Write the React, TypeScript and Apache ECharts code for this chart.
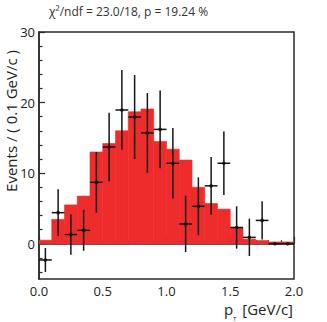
import React, { useEffect, useRef } from "react";
import * as echarts from "echarts";

const binCenters = [0.05, 0.15, 0.25, 0.35, 0.45, 0.55, 0.65, 0.75, 0.85, 0.95, 1.05, 1.15, 1.25, 1.35, 1.45, 1.55, 1.65, 1.75, 1.85, 1.95];
const fitValues = [0.5, 3.45, 5.5, 6.75, 13.0, 14.2, 16.0, 18.7, 19.1, 14.5, 13.4, 11.85, 8.0, 5.7, 4.9, 2.3, 0.65, 0.45, 0.25, 0.25];
const dataValues = [-2.3, 4.4, 1.3, 1.9, 8.7, 13.7, 18.95, 17.95, 15.7, 16.2, 11.4, 2.8, 5.3, 8.2, 11.4, 2.3, 0.9, 3.3, 0.0, 0.0];
const dataErrors = [1.7, 3.3, 2.85, 2.9, 4.3, 4.85, 5.65, 5.95, 5.65, 5.5, 5.0, 4.0, 4.1, 4.1, 4.5, 3.0, 2.65, 2.7, 0, 0];
const binWidth = 0.1;
const yMajorTicks = [0, 10, 20, 30];
const yMinorTicks = [-4, -2, 2, 4, 6, 8, 12, 14, 16, 18, 22, 24, 26, 28];
const titleText = "χ²/ndf = 23.0/18, p = 19.24 %";
const yTitle = "Events / ( 0.1 GeV/c )";

const FONT = "'Open Sans', 'Noto Sans', sans-serif";
const AXIS_COLOR = "#2a2a2a";

export default function App() {
  const ref = useRef<HTMLDivElement>(null);
  useEffect(() => {
    document.body.style.margin = "0";
    const chart = echarts.init(ref.current!, null, { renderer: "svg" });
    const histData = binCenters.map((x, i) => [x, fitValues[i]]);
    const pointData = binCenters.map((x, i) => [x, dataValues[i], dataErrors[i]]);
    chart.setOption({
      animation: false,
      textStyle: { fontFamily: FONT },
      grid: {
        left: 39,
        right: 33,
        top: 32,
        bottom: 43,
        show: true,
        borderColor: AXIS_COLOR,
        borderWidth: 1.5,
        backgroundColor: "transparent",
      },
      xAxis: {
        type: "value",
        min: 0,
        max: 2,
        interval: 0.5,
        axisLine: { show: true, lineStyle: { color: AXIS_COLOR, width: 1.5 } },
        axisTick: { show: true, inside: true, length: 7, lineStyle: { color: AXIS_COLOR, width: 1.2 } },
        minorTick: { show: true, splitNumber: 5, length: 3.5, lineStyle: { color: AXIS_COLOR, width: 1.2 } },
        splitLine: { show: false },
        minorSplitLine: { show: false },
        axisLabel: {
          color: "#222",
          fontSize: 13,
          fontFamily: FONT,
          margin: 5,
          formatter: (v: number) => v.toFixed(1),
        },
      },
      yAxis: [
        {
          type: "value",
          min: -5,
          max: 30,
          axisLine: { show: true, lineStyle: { color: AXIS_COLOR, width: 1.5 } },
          axisTick: {
            show: true,
            inside: true,
            length: 6,
            customValues: yMajorTicks,
            lineStyle: { color: AXIS_COLOR, width: 1.2 },
          },
          splitLine: { show: false },
          axisLabel: {
            color: "#222",
            fontSize: 13,
            fontFamily: FONT,
            margin: 4,
            customValues: yMajorTicks,
          },
        },
        {
          type: "value",
          position: "left",
          min: -5,
          max: 30,
          axisLine: { show: false },
          axisTick: {
            show: true,
            inside: true,
            length: 3.5,
            customValues: yMinorTicks,
            lineStyle: { color: AXIS_COLOR, width: 1.2 },
          },
          splitLine: { show: false },
          axisLabel: { show: false },
        },
      ],
      graphic: [
        {
          type: "text",
          left: 49,
          top: 5,
          style: { text: titleText, fontSize: 12, fill: "#333", fontFamily: FONT },
        },
        {
          type: "text",
          x: 11,
          y: 121,
          rotation: Math.PI / 2,
          style: {
            text: yTitle,
            fontSize: 15,
            fill: "#222",
            fontFamily: FONT,
            align: "center",
            verticalAlign: "middle",
          },
        },
        {
          type: "text",
          x: 293,
          y: 309,
          style: {
            text: "[GeV/c]",
            fontSize: 15,
            fill: "#222",
            fontFamily: FONT,
            align: "right",
            verticalAlign: "middle",
          },
        },
        {
          type: "text",
          x: 224,
          y: 309,
          style: {
            text: "p",
            fontSize: 15,
            fill: "#222",
            fontFamily: FONT,
            align: "left",
            verticalAlign: "middle",
          },
        },
        {
          type: "text",
          x: 233,
          y: 319,
          style: {
            text: "T",
            fontSize: 6,
            fill: "#222",
            fontFamily: FONT,
            align: "left",
            verticalAlign: "middle",
          },
        },
      ],
      series: [
        {
          type: "custom",
          name: "fit",
          xAxisIndex: 0,
          yAxisIndex: 0,
          data: histData,
          clip: true,
          renderItem: (params: any, api: any) => {
            const x = api.value(0);
            const v = api.value(1);
            const p0 = api.coord([x - binWidth / 2, 0]);
            const p1 = api.coord([x + binWidth / 2, v]);
            return {
              type: "rect",
              shape: {
                x: p0[0],
                y: Math.min(p0[1], p1[1]),
                width: p1[0] - p0[0],
                height: Math.abs(p1[1] - p0[1]),
              },
              style: { fill: "#ee2c2c", stroke: "#ee2c2c", lineWidth: 0.6 },
            };
          },
        },
        {
          type: "custom",
          name: "data",
          xAxisIndex: 0,
          yAxisIndex: 0,
          data: pointData,
          clip: true,
          renderItem: (params: any, api: any) => {
            const x = api.value(0);
            const v = api.value(1);
            const e = api.value(2);
            const c = api.coord([x, v]);
            const top = api.coord([x, v + e]);
            const bot = api.coord([x, v - e]);
            const l = api.coord([x - binWidth / 2, v]);
            const r = api.coord([x + binWidth / 2, v]);
            const st = { stroke: "#151515", lineWidth: 1.5 };
            const children: any[] = [
              { type: "line", shape: { x1: l[0], y1: l[1], x2: r[0], y2: r[1] }, style: st },
              { type: "circle", shape: { cx: c[0], cy: c[1], r: 1.8 }, style: { fill: "#151515" } },
            ];
            if (e > 0) {
              children.push({ type: "line", shape: { x1: top[0], y1: top[1], x2: bot[0], y2: bot[1] }, style: st });
            }
            return { type: "group", children };
          },
        },
      ],
    });
    return () => chart.dispose();
  }, []);
  return <div ref={ref} style={{ width: 327, height: 322 }} />;
}
